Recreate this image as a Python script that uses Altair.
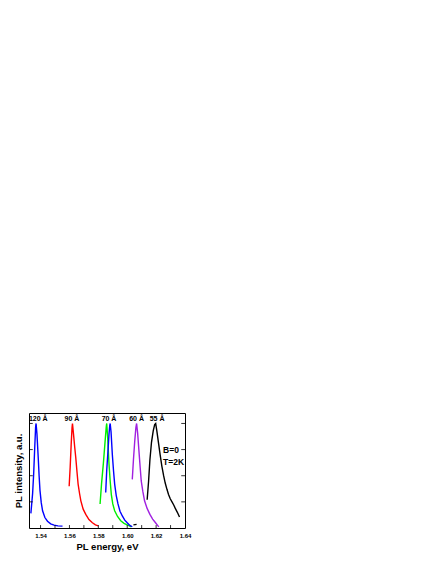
import altair as alt
import pandas as pd

# ---- data ----
s120_x = [1.5333, 1.5345, 1.5352, 1.5360, 1.5366, 1.5369, 1.5375, 1.5384, 1.5390, 1.5396, 1.5405, 1.5414, 1.5430, 1.5448, 1.5470, 1.5494, 1.5520, 1.5552]
s120_y = [0.14, 0.33, 0.51, 0.78, 0.97, 1.00, 0.90, 0.67, 0.50, 0.36, 0.24, 0.165, 0.10, 0.065, 0.04, 0.028, 0.02, 0.018]

s90_x = [1.5598, 1.5605, 1.5612, 1.5618, 1.5621, 1.5628, 1.5636, 1.5644, 1.5652, 1.5660, 1.5670, 1.5679, 1.5695, 1.5713, 1.5735, 1.5759, 1.5780, 1.5800]
s90_y = [0.40, 0.58, 0.80, 0.96, 1.00, 0.90, 0.78, 0.67, 0.54, 0.42, 0.33, 0.26, 0.18, 0.13, 0.08, 0.05, 0.03, 0.02]

s70g_x = [1.5812, 1.5822, 1.5835, 1.5848, 1.5855, 1.5858, 1.5864, 1.5874, 1.5882, 1.5890, 1.5900, 1.5913, 1.5933, 1.5955, 1.5978, 1.6000, 1.6015, 1.6028]
s70g_y = [0.23, 0.42, 0.62, 0.85, 0.97, 1.00, 0.88, 0.61, 0.45, 0.32, 0.23, 0.165, 0.11, 0.07, 0.045, 0.03, 0.02, 0.012]

s70b_x = [1.5851, 1.5858, 1.5866, 1.5874, 1.5879, 1.5882, 1.5888, 1.5897, 1.5905, 1.5913, 1.5924, 1.5936, 1.5950, 1.5966, 1.5983, 1.6000, 1.6018, 1.6035]
s70b_y = [0.34, 0.55, 0.72, 0.90, 0.98, 1.00, 0.92, 0.70, 0.55, 0.42, 0.31, 0.23, 0.16, 0.115, 0.075, 0.05, 0.025, 0.012]

sdash_x = [1.6043, 1.6065]
sdash_y = [0.03, 0.035]

s60_x = [1.6035, 1.6043, 1.6052, 1.6060, 1.6065, 1.6072, 1.6081, 1.6089, 1.6097, 1.6108, 1.6120, 1.6137, 1.6157, 1.6176, 1.6196, 1.6210, 1.6219]
s60_y = [0.465, 0.65, 0.83, 0.96, 1.00, 0.91, 0.74, 0.59, 0.45, 0.35, 0.26, 0.19, 0.13, 0.085, 0.05, 0.025, 0.012]

s55_x = [1.6138, 1.6148, 1.6157, 1.6168, 1.6180, 1.6190, 1.6197, 1.6205, 1.6217, 1.6228, 1.6240, 1.6252, 1.6263, 1.6275, 1.6286, 1.6298, 1.6310, 1.6322, 1.6332, 1.6347, 1.6362]
s55_y = [0.27, 0.45, 0.65, 0.82, 0.93, 0.99, 1.00, 0.93, 0.81, 0.70, 0.59, 0.50, 0.43, 0.37, 0.32, 0.28, 0.25, 0.22, 0.19, 0.15, 0.105]

series_names = ["120 blue", "90 red", "70 green", "70 blue", "dash", "60 purple", "55 black"]
series_colors = ["#0000ff", "#ff0000", "#00ee00", "#0000ff", "#000000", "#a020e0", "#000000"]
series_x = [s120_x, s90_x, s70g_x, s70b_x, sdash_x, s60_x, s55_x]
series_y = [s120_y, s90_y, s70g_y, s70b_y, sdash_y, s60_y, s55_y]

peak_labels = ["120 Å", "90 Å", "70 Å", "60 Å", "55 Å"]
peak_label_x = [1.5384, 1.5617, 1.5874, 1.6065, 1.6207]
peak_label_y = [1.045, 1.045, 1.045, 1.045, 1.045]

note_labels = ["B=0", "T=2K"]
note_x = [1.6248, 1.6248]
note_y = [0.745, 0.632]

x_ticks = [1.54, 1.56, 1.58, 1.60, 1.62, 1.64]
x_minor = [1.54, 1.55, 1.56, 1.57, 1.58, 1.59, 1.60, 1.61, 1.62, 1.63]
y_ticks = [0.25, 0.5, 0.75, 1.0]

X_DOMAIN = [1.532, 1.64]
Y_DOMAIN = [0, 1.1]

rows = []
for name, xs, ys in zip(series_names, series_x, series_y):
    for i, (xv, yv) in enumerate(zip(xs, ys)):
        rows.append({"series": name, "energy": xv, "intensity": yv, "order": i})
df = pd.DataFrame(rows)

FONT = "Liberation Sans"

xscale = alt.Scale(domain=X_DOMAIN, nice=False, zero=False)
yscale = alt.Scale(domain=Y_DOMAIN, nice=False, zero=False)

xaxis = alt.Axis(values=x_ticks, format=".2f", title="PL energy, eV",
                 ticks=False, domain=False, grid=False,
                 labelOverlap=False, labelFlush=False,
                 labelFontSize=6, labelFontWeight="bold", labelFont=FONT,
                 labelPadding=4, labelColor="black",
                 titleFontSize=9.5, titleFontWeight="bold", titleFont=FONT,
                 titlePadding=3, titleColor="black")
yaxis = alt.Axis(labels=False, ticks=False, domain=False, grid=False,
                 title="PL intensity, a.u.",
                 titleFontSize=9.5, titleFontWeight="bold", titleFont=FONT,
                 titlePadding=6, titleColor="black")

lines = alt.Chart(df).mark_line(strokeWidth=1.4).encode(
    x=alt.X("energy:Q", scale=xscale, axis=xaxis),
    y=alt.Y("intensity:Q", scale=yscale, axis=yaxis),
    color=alt.Color("series:N", scale=alt.Scale(domain=series_names, range=series_colors), legend=None),
    order="order:Q",
)

# inward ticks
tick_len_y = 0.028
tick_len_x = 0.0026
bottom_ticks = alt.Chart(pd.DataFrame({"x": x_minor})).mark_rule(color="black", strokeWidth=0.8).encode(
    x=alt.X("x:Q", scale=xscale, axis=xaxis),
    y=alt.Y("y0:Q", scale=yscale, axis=yaxis),
    y2="y1:Q",
).transform_calculate(y0=str(Y_DOMAIN[0]), y1=str(Y_DOMAIN[0] + tick_len_y))

ydf = pd.DataFrame({"y": y_ticks})
left_ticks = alt.Chart(ydf).mark_rule(color="black", strokeWidth=0.8).encode(
    y=alt.Y("y:Q", scale=yscale, axis=yaxis),
    x=alt.X("x0:Q", scale=xscale, axis=xaxis),
    x2="x1:Q",
).transform_calculate(x0=str(X_DOMAIN[0]), x1=str(X_DOMAIN[0] + tick_len_x))
right_ticks = alt.Chart(ydf).mark_rule(color="black", strokeWidth=0.8).encode(
    y=alt.Y("y:Q", scale=yscale, axis=yaxis),
    x=alt.X("x0:Q", scale=xscale, axis=xaxis),
    x2="x1:Q",
).transform_calculate(x0=str(X_DOMAIN[1] - tick_len_x), x1=str(X_DOMAIN[1]))

peak_text = alt.Chart(pd.DataFrame({"x": peak_label_x, "y": peak_label_y, "t": peak_labels})).mark_text(
    font=FONT, fontSize=7, fontWeight="bold", color="black", align="center", baseline="middle"
).encode(x=alt.X("x:Q", scale=xscale, axis=xaxis), y=alt.Y("y:Q", scale=yscale, axis=yaxis), text="t:N")

note_text = alt.Chart(pd.DataFrame({"x": note_x, "y": note_y, "t": note_labels})).mark_text(
    font=FONT, fontSize=8.5, fontWeight="bold", color="black", align="left", baseline="middle"
).encode(x=alt.X("x:Q", scale=xscale, axis=xaxis), y=alt.Y("y:Q", scale=yscale, axis=yaxis), text="t:N")

chart = alt.layer(lines, bottom_ticks, left_ticks, right_ticks, peak_text, note_text).properties(
    width=156, height=115,
    autosize=alt.AutoSizeParams(type="none"),
    padding={"left": 21, "top": 405, "right": 30, "bottom": 30},
).configure_view(stroke="black", strokeWidth=1)

chart.save("out.html", embed_options={"renderer": "svg", "actions": False})
